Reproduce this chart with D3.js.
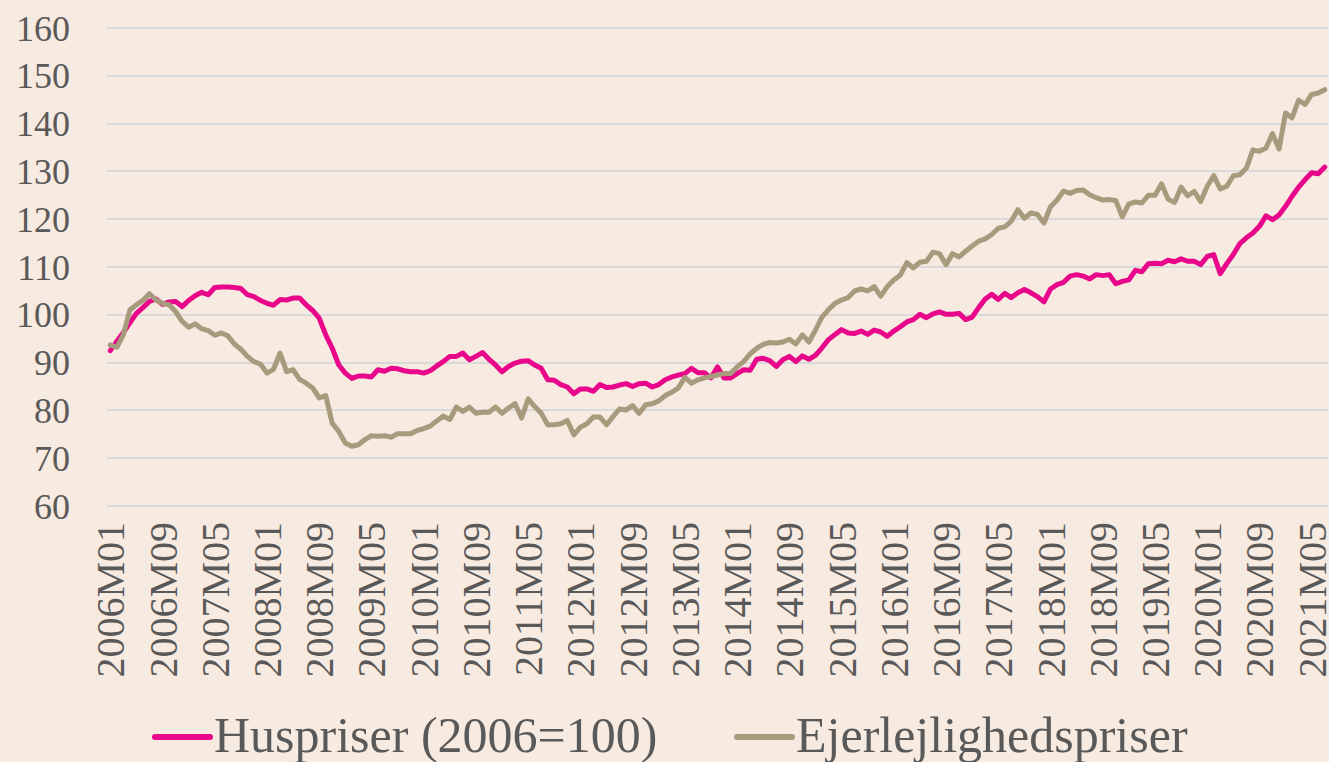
<!DOCTYPE html>
<meta charset="utf-8">
<style>
body { margin: 0; background: #F7EAE0; }
text { font-family: 'Liberation Serif', 'DejaVu Serif', serif; fill: #595959; }
.grid line { stroke: #D9D9D9; stroke-width: 2; shape-rendering: crispEdges; }
.line { fill: none; stroke-width: 5; stroke-linejoin: round; stroke-linecap: round; }
#husLine { stroke: #E8068A; }
#ejerLine { stroke: #A89A7D; }
</style>
<body>
<script src="https://d3js.org/d3.v7.min.js"></script>
<script>
// months 2006M01 .. 2021M07
var startYear = 2006, monthCount = 187;
var months = [];
for (var i = 0; i < monthCount; i++) {
	months.push((startYear + Math.floor(i / 12)) + "M" + String(i % 12 + 1).padStart(2, "0"));
}

var xTickLabels = ["2006M01","2006M09","2007M05","2008M01","2008M09","2009M05","2010M01","2010M09",
	"2011M05","2012M01","2012M09","2013M05","2014M01","2014M09","2015M05","2016M01","2016M09",
	"2017M05","2018M01","2018M09","2019M05","2020M01","2020M09","2021M05"];
var yTicks = [60, 70, 80, 90, 100, 110, 120, 130, 140, 150, 160];

var huspriser = [
	92.5, 94.4, 96.3, 98.3, 100.3, 101.5, 102.8, 103.3, 102.2, 102.7, 102.8, 101.7,
	103.0, 104.0, 104.7, 104.2, 105.7, 105.8, 105.8, 105.7, 105.5, 104.2, 103.8, 103.0,
	102.4, 102.0, 103.2, 103.1, 103.5, 103.5, 102.1, 100.9, 99.3, 95.8, 93.0, 89.5,
	87.8, 86.7, 87.2, 87.2, 87.0, 88.5, 88.2, 88.8, 88.7, 88.3, 88.1, 88.1,
	87.8, 88.3, 89.3, 90.2, 91.3, 91.3, 92.0, 90.6, 91.3, 92.1, 90.7, 89.5,
	88.1, 89.2, 89.9, 90.3, 90.4, 89.5, 88.8, 86.4, 86.3, 85.4, 84.9, 83.5,
	84.5, 84.5, 84.0, 85.4, 84.8, 84.9, 85.3, 85.6, 85.0, 85.6, 85.7, 84.9,
	85.4, 86.4, 87.0, 87.4, 87.7, 88.8, 87.9, 87.9, 86.8, 89.1, 86.8, 86.8,
	87.7, 88.5, 88.4, 90.7, 90.9, 90.4, 89.2, 90.6, 91.3, 90.2, 91.4, 90.7,
	91.5, 93.1, 94.8, 95.9, 96.9, 96.2, 96.1, 96.6, 95.9, 96.8, 96.4, 95.5,
	96.6, 97.5, 98.5, 99.0, 100.1, 99.4, 100.2, 100.6, 100.1, 100.1, 100.3, 99.0,
	99.5, 101.5, 103.3, 104.3, 103.2, 104.5, 103.6, 104.6, 105.3, 104.6, 103.8, 102.7,
	105.4, 106.3, 106.8, 108.1, 108.4, 108.1, 107.5, 108.4, 108.2, 108.4, 106.5, 107.0,
	107.3, 109.3, 109.0, 110.7, 110.8, 110.7, 111.4, 111.1, 111.7, 111.2, 111.2, 110.5,
	112.2, 112.6, 108.6, 110.7, 112.6, 114.9, 116.1, 117.1, 118.5, 120.7, 119.9, 120.9,
	122.7, 124.8, 126.7, 128.3, 129.7, 129.5, 130.9
];

var ejerlejlighed = [
	93.7, 93.2, 95.8, 101.0, 102.1, 103.0, 104.4, 103.1, 102.4, 102.1, 100.7, 98.6,
	97.4, 98.1, 97.1, 96.7, 95.7, 96.2, 95.6, 93.9, 92.8, 91.3, 90.2, 89.7,
	87.8, 88.6, 92.0, 88.1, 88.5, 86.5, 85.7, 84.7, 82.6, 83.1, 77.3, 75.6,
	73.2, 72.5, 72.8, 73.9, 74.7, 74.6, 74.7, 74.4, 75.1, 75.1, 75.1, 75.8,
	76.2, 76.7, 77.8, 78.8, 78.1, 80.7, 79.8, 80.7, 79.4, 79.6, 79.6, 80.7,
	79.4, 80.5, 81.4, 78.4, 82.4, 80.8, 79.4, 77.0, 77.0, 77.2, 77.9, 74.9,
	76.5, 77.2, 78.6, 78.6, 77.0, 78.7, 80.3, 80.1, 81.0, 79.4, 81.2, 81.4,
	82.0, 83.1, 83.8, 84.7, 86.9, 85.7, 86.4, 86.8, 87.1, 87.4, 87.7, 87.7,
	89.1, 90.2, 91.8, 93.0, 93.8, 94.2, 94.1, 94.3, 94.9, 93.9, 95.8, 94.3,
	96.8, 99.5, 101.1, 102.4, 103.1, 103.6, 105.0, 105.4, 105.0, 105.9, 103.9, 105.9,
	107.3, 108.3, 110.9, 109.8, 111.0, 111.2, 113.1, 112.8, 110.5, 112.8, 112.1, 113.3,
	114.4, 115.4, 115.9, 116.8, 118.1, 118.4, 119.6, 122.0, 120.2, 121.3, 121.0, 119.2,
	122.6, 124.0, 125.9, 125.4, 126.0, 126.1, 125.1, 124.5, 124.0, 124.1, 123.9, 120.5,
	123.2, 123.6, 123.4, 125.0, 125.0, 127.4, 124.2, 123.5, 126.7, 124.9, 125.8, 123.7,
	126.9, 129.1, 126.3, 126.9, 129.1, 129.3, 130.7, 134.5, 134.2, 134.9, 137.9, 134.7,
	142.2, 141.2, 144.9, 144.0, 146.1, 146.4, 147.1
];

var seriesNames = ["Huspriser (2006=100)", "Ejerlejlighedspriser"];

var width = 1329, height = 762;
var plot = {left: 107, right: 1328, top: 28, bottom: 506};

var svg = d3.select("body").append("svg")
	.attr("width", width)
	.attr("height", height);

svg.append("rect")
	.attr("width", width).attr("height", height)
	.attr("fill", "#F7EAE0");

var x = d3.scalePoint().domain(months).range([plot.left, plot.right]).padding(0.5);
var y = d3.scaleLinear().domain([60, 160]).range([plot.bottom, plot.top]);

// gridlines
svg.append("g")
	.attr("class", "grid")
	.selectAll("line")
	.data(yTicks)
	.join("line")
	.attr("x1", plot.left).attr("x2", plot.right)
	.attr("y1", d => Math.round(y(d))).attr("y2", d => Math.round(y(d)));

// y axis labels
svg.append("g")
	.selectAll("text")
	.data(yTicks)
	.join("text")
	.attr("x", 70)
	.attr("y", d => y(d))
	.attr("dy", "0.35em")
	.attr("text-anchor", "end")
	.style("font-size", "36px")
	.text(d => d);

// x axis labels, rotated
svg.append("g")
	.selectAll("text")
	.data(xTickLabels)
	.join("text")
	.attr("transform", d => "translate(" + x(d) + ",522) rotate(-90)")
	.attr("dy", "0.35em")
	.attr("text-anchor", "end")
	.style("font-size", "40px")
	.text(d => d);

var husLine = d3.line()
	.x((d, i) => x(months[i]))
	.y(d => y(d));

svg.append("path")
	.attr("class", "line")
	.attr("id", "husLine")
	.attr("d", husLine(huspriser));

svg.append("path")
	.attr("class", "line")
	.attr("id", "ejerLine")
	.attr("d", husLine(ejerlejlighed));

// legend
var legend = [
	{name: seriesNames[0], color: "#E8068A", x: 155},
	{name: seriesNames[1], color: "#A89A7D", x: 737}
];
var lg = svg.append("g").selectAll("g").data(legend).join("g");
lg.append("line")
	.attr("x1", d => d.x).attr("x2", d => d.x + 55)
	.attr("y1", 737).attr("y2", 737)
	.attr("stroke", d => d.color)
	.attr("stroke-width", 6)
	.attr("stroke-linecap", "round");
lg.append("text")
	.attr("x", d => d.x + 59)
	.attr("y", 752)
	.style("font-size", "50px")
	.text(d => d.name);
</script>
